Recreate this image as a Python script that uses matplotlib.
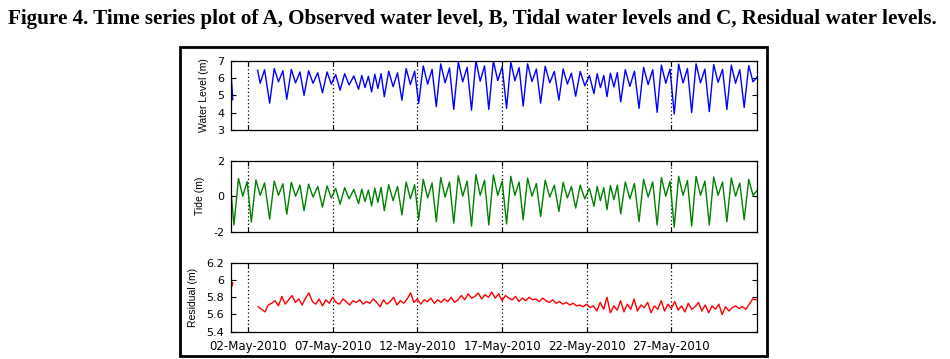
import numpy as np
import matplotlib
matplotlib.use('Agg')
import matplotlib.pyplot as plt
import matplotlib.dates as mdates
from matplotlib.patches import Rectangle
from matplotlib.ticker import FormatStrFormatter

# days after 01-May-2010 00:00
tide_day = [
    0.00, 0.17, 0.44, 0.69, 0.95,
    1.20, 1.47, 1.72, 1.98,
    2.28, 2.55, 2.80, 3.06,
    3.29, 3.56, 3.81, 4.07,
    4.31, 4.58, 4.84, 5.12,
    5.40, 5.67, 5.92, 6.18,
    6.44, 6.71, 6.97, 7.25,
    7.53, 7.72, 7.91, 8.11,
    8.30, 8.49, 8.67, 8.86,
    9.05, 9.31, 9.57, 9.83,
    10.09, 10.34, 10.59, 10.84,
    11.08, 11.35, 11.61, 11.87,
    12.12, 12.38, 12.64, 12.90,
    13.15, 13.42, 13.68, 13.94,
    14.20, 14.46, 14.71, 14.97,
    15.22, 15.49, 15.75, 16.01,
    16.27, 16.52, 16.76, 17.01,
    17.25, 17.51, 17.77, 18.03,
    18.28, 18.55, 18.82, 19.09,
    19.36, 19.61, 19.86, 20.10,
    20.35, 20.62, 20.89, 21.16,
    21.43, 21.62, 21.81, 22.01,
    22.20, 22.40, 22.61, 22.81,
    23.01, 23.28, 23.55, 23.82,
    24.09, 24.36, 24.63, 24.90,
    25.16, 25.41, 25.67, 25.92,
    26.17, 26.43, 26.69, 26.95,
    27.20, 27.46, 27.72, 27.98,
    28.24, 28.50, 28.76, 29.02,
    29.28, 29.54, 29.79, 30.04,
    30.30, 30.57, 30.82, 31.05,
]
tide_m = [
    0.25, -1.62, 1.00, 0.00, 0.82,
    -1.45, 0.92, 0.05, 0.75,
    -1.29, 0.85, 0.05, 0.70,
    -1.02, 0.78, 0.00, 0.62,
    -0.82, 0.68, -0.05, 0.55,
    -0.62, 0.58, -0.10, 0.45,
    -0.45, 0.48, -0.15, 0.38,
    -0.42, 0.40, -0.30, 0.35,
    -0.55, 0.45, -0.35, 0.50,
    -0.82, 0.65, -0.25, 0.55,
    -1.05, 0.80, -0.15, 0.65,
    -1.33, 0.95, -0.10, 0.75,
    -1.43, 1.05, -0.05, 0.80,
    -1.52, 1.15, 0.00, 0.85,
    -1.68, 1.22, 0.05, 0.90,
    -1.62, 1.20, 0.05, 0.85,
    -1.56, 1.12, 0.05, 0.80,
    -1.33, 1.02, 0.00, 0.72,
    -1.14, 0.90, -0.05, 0.62,
    -0.86, 0.78, -0.10, 0.55,
    -0.67, 0.62, -0.15, 0.45,
    -0.57, 0.55, -0.25, 0.48,
    -0.75, 0.60, -0.20, 0.62,
    -1.00, 0.80, -0.15, 0.72,
    -1.43, 0.95, -0.05, 0.80,
    -1.62, 1.05, 0.00, 0.85,
    -1.75, 1.12, 0.05, 0.88,
    -1.68, 1.12, 0.05, 0.85,
    -1.62, 1.08, 0.05, 0.80,
    -1.43, 1.02, 0.00, 0.75,
    -1.33, 0.95, 0.05, 0.30,
]

# observed water level: short record at the start, gap, then continuous
obs_day_a = [0.00, 0.05, 0.10]
obs_m_a = [6.25, 5.55, 4.75]
obs_day_b = [1.57, 1.72, 1.98] + tide_day[9:]
obs_m_b = [
    6.45, 5.70, 6.48,
    4.55, 6.55, 5.78, 6.42,
    4.77, 6.50, 5.72, 6.35,
    5.00, 6.42, 5.70, 6.30,
    5.15, 6.35, 5.65, 6.20,
    5.30, 6.25, 5.60, 6.12,
    5.35, 6.15, 5.45, 6.10,
    5.20, 6.22, 5.40, 6.25,
    4.92, 6.40, 5.50, 6.30,
    4.72, 6.55, 5.62, 6.40,
    4.54, 6.70, 5.65, 6.50,
    4.35, 6.82, 5.72, 6.58,
    4.19, 6.92, 5.78, 6.62,
    4.15, 7.00, 5.82, 6.70,
    4.19, 6.98, 5.85, 6.65,
    4.25, 6.92, 5.85, 6.60,
    4.38, 6.82, 5.80, 6.52,
    4.55, 6.68, 5.72, 6.38,
    4.72, 6.52, 5.65, 6.28,
    4.95, 6.38, 5.55, 6.15,
    5.10, 6.25, 5.45, 6.15,
    4.92, 6.28, 5.48, 6.32,
    4.62, 6.48, 5.52, 6.40,
    4.25, 6.62, 5.62, 6.48,
    4.02, 6.75, 5.70, 6.52,
    3.92, 6.80, 5.72, 6.55,
    4.00, 6.82, 5.72, 6.52,
    4.06, 6.78, 5.75, 6.50,
    4.19, 6.75, 5.70, 6.48,
    4.30, 6.72, 5.78, 6.05,
]

# residual, sampled every 0.2 day from day 1.6
res_day_a = [0.00, 0.05, 0.10]
res_m_a = [6.00, 5.93, 5.97]
res_m_b = [
    5.69, 5.66, 5.63, 5.71, 5.73,
    5.76, 5.70, 5.81, 5.72, 5.77,
    5.82, 5.74, 5.78, 5.71, 5.79,
    5.85, 5.75, 5.72, 5.78, 5.70,
    5.77, 5.73, 5.80, 5.74, 5.72,
    5.78, 5.75, 5.71, 5.76, 5.74,
    5.77, 5.72, 5.75, 5.73, 5.78,
    5.74, 5.69, 5.77, 5.72, 5.75,
    5.80, 5.71, 5.76, 5.73, 5.78,
    5.85, 5.74, 5.78, 5.72, 5.77,
    5.75, 5.79, 5.73, 5.77, 5.74,
    5.78, 5.75, 5.80, 5.74, 5.77,
    5.82, 5.77, 5.84, 5.79, 5.81,
    5.85, 5.78, 5.83, 5.80, 5.86,
    5.79, 5.84, 5.76, 5.82, 5.79,
    5.77, 5.81, 5.75, 5.79, 5.76,
    5.80, 5.77, 5.78, 5.75, 5.79,
    5.76, 5.74, 5.77, 5.73, 5.75,
    5.72, 5.74, 5.71, 5.73, 5.70,
    5.71, 5.69, 5.72, 5.68, 5.70,
    5.64, 5.74, 5.66, 5.80, 5.62,
    5.70, 5.65, 5.76, 5.63, 5.72,
    5.66, 5.78, 5.64, 5.71, 5.68,
    5.74, 5.62, 5.70, 5.66, 5.76,
    5.64, 5.72, 5.67, 5.75, 5.65,
    5.70, 5.63, 5.73, 5.66, 5.69,
    5.74, 5.64, 5.71, 5.62, 5.70,
    5.66, 5.72, 5.60, 5.69, 5.64,
    5.68, 5.70, 5.67, 5.69, 5.66,
    5.72, 5.78, 5.77,
]
res_day_b = 1.6 + 0.2 * np.arange(len(res_m_b))

start = np.datetime64('2010-05-01T00:00')


def to_time(days):
    secs = np.round(np.asarray(days, dtype=float) * 86400).astype('int64')
    return start + secs.astype('timedelta64[s]')


plt.rcParams['font.family'] = ['DejaVu Sans']
plt.rcParams['axes.unicode_minus'] = False

fig = plt.figure(figsize=(9.5, 3.59), dpi=100)
fig.text(0.008, 0.947, 'Figure 4. Time series plot of A, Observed water level, B, Tidal water levels and C, Residual water levels.',
         family='Liberation Serif', fontweight='bold', fontsize=15.2, va='center', ha='left')
fig.patches.append(Rectangle((0.1895, 0.009), 0.618, 0.861, transform=fig.transFigure,
                             fill=False, edgecolor='black', linewidth=2))

left, width = 0.2432, 0.5537
ax1 = fig.add_axes([left, 0.6379, width, 0.193])
ax2 = fig.add_axes([left, 0.3546, width, 0.1978])
ax3 = fig.add_axes([left, 0.076, width, 0.192])

ax1.plot(to_time(obs_day_a), obs_m_a, color='blue', lw=1)
ax1.plot(to_time(obs_day_b), obs_m_b, color='blue', lw=1)
ax2.plot(to_time(tide_day), tide_m, color='#008000', lw=1)
ax3.plot(to_time(res_day_a), res_m_a, color='red', lw=1)
ax3.plot(to_time(res_day_b), res_m_b, color='red', lw=1)

ax1.set_ylim(3, 7)
ax1.set_yticks([3, 4, 5, 6, 7])
ax2.set_ylim(-2, 2)
ax2.set_yticks([-2, 0, 2])
ax3.set_ylim(5.4, 6.2)
ax3.set_yticks([5.4, 5.6, 5.8, 6.0, 6.2])
ax3.yaxis.set_major_formatter(FormatStrFormatter('%g'))

ylab_font = dict(family=['Liberation Sans Narrow', 'Liberation Sans'], fontsize=7.5)
ax1.set_ylabel('Water Level (m)', labelpad=6, **ylab_font)
ax2.set_ylabel('Tide (m)', labelpad=6, **ylab_font)
ax3.set_ylabel('Residual (m)', labelpad=6, **ylab_font)

for ax in (ax1, ax2, ax3):
    ax.set_xlim(to_time(0.0), to_time(31.06))
    ax.xaxis.set_major_locator(mdates.DayLocator(bymonthday=[2, 7, 12, 17, 22, 27]))
    ax.xaxis.set_major_formatter(mdates.DateFormatter('%d-%b-%Y'))
    ax.xaxis.grid(True, linestyle=(0, (1, 2)), color='black', lw=0.9)
    ax.tick_params(direction='in', top=True, right=True, length=3.5, width=0.8)
    ax.tick_params(axis='y', labelsize=8, pad=5)
    ax.tick_params(axis='x', labelsize=8.5, pad=6)
    for s in ax.spines.values():
        s.set_linewidth(0.9)
ax1.tick_params(labelbottom=False)
ax2.tick_params(labelbottom=False)

fig.savefig('out.png', dpi=100)
plt.close(fig)
